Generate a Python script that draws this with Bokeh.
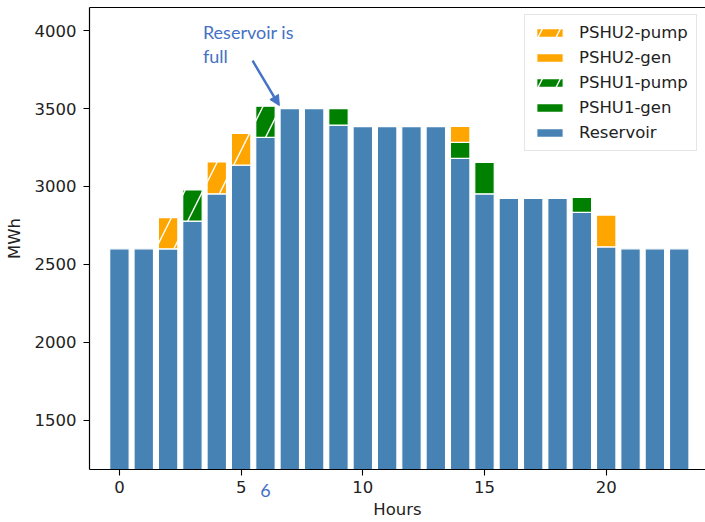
import numpy as np
from bokeh.plotting import figure
from bokeh.models import (Legend, LegendItem, LinearAxis, FixedTicker, Label,
                          Arrow, NormalHead)
from bokeh.core.properties import value
from bokeh.embed import file_html
from bokeh.resources import INLINE

# ---- data ----
hours = list(range(24))
reservoir = [2600, 2600, 2600, 2778, 2953, 3137, 3315, 3500, 3500, 3394, 3384, 3384,
             3384, 3384, 3180, 2953, 2924, 2924, 2924, 2834, 2613, 2600, 2600, 2600]
pshu1_gen = [0, 0, 0, 0, 0, 0, 0, 0, 0, 106, 0, 0,
             0, 0, 103, 202, 0, 0, 0, 96, 0, 0, 0, 0]
pshu1_pump = [0, 0, 0, 200, 0, 0, 200, 0, 0, 0, 0, 0,
              0, 0, 0, 0, 0, 0, 0, 0, 0, 0, 0, 0]
pshu2_gen = [0, 0, 0, 0, 0, 0, 0, 0, 0, 0, 0, 0,
             0, 0, 103, 0, 0, 0, 0, 0, 204, 0, 0, 0]
pshu2_pump = [0, 0, 200, 0, 204, 204, 0, 0, 0, 0, 0, 0,
              0, 0, 0, 0, 0, 0, 0, 0, 0, 0, 0, 0]

x_ticks = [0, 5, 10, 15, 20]
y_ticks = [1500, 2000, 2500, 3000, 3500, 4000]
marked_hour = [6]

BLUE = "#4682B4"
ORANGE = "#FFA500"
GREEN = "#008000"
ANN = "#4472C4"
TICK_FONT = "DejaVu Sans"
FS = "16.5px"

p = figure(width=705, height=522, x_range=(-1.23, 24.08), y_range=(1185, 4148),
           output_backend="svg", toolbar_location=None,
           min_border_left=89, min_border_right=0, min_border_top=7,
           min_border_bottom=53, background_fill_color="white",
           border_fill_color="white")
p.outline_line_color = None
p.xgrid.visible = False
p.ygrid.visible = False

series = [
    ("Reservoir", reservoir, BLUE, None),
    ("PSHU1-gen", pshu1_gen, GREEN, None),
    ("PSHU1-pump", pshu1_pump, GREEN, "/"),
    ("PSHU2-gen", pshu2_gen, ORANGE, None),
    ("PSHU2-pump", pshu2_pump, ORANGE, "/"),
]

bottom = np.full(len(hours), 0.0)
renderers = {}
for name, vals, col, hatch in series:
    v = np.array(vals, dtype=float)
    b = bottom.copy()
    t = bottom + v
    mask = (t - b) > 0
    kw = dict(x=np.array(hours)[mask], bottom=b[mask], top=t[mask], width=0.8,
              fill_color=col, line_color="white", line_width=1.2)
    if hatch:
        kw.update(hatch_pattern=hatch, hatch_color="white", hatch_scale=36,
                  hatch_weight=1.4)
    renderers[name] = p.vbar(**kw)
    bottom = t

# axes
for ax in (p.xaxis[0], p.yaxis[0]):
    ax.axis_line_color = "black"
    ax.axis_line_width = 1.2
    ax.major_tick_line_color = "black"
    ax.major_tick_line_width = 1.1
    ax.major_tick_in = 0
    ax.major_tick_out = 6
    ax.minor_tick_line_color = None
    ax.major_label_text_font = TICK_FONT
    ax.major_label_text_font_size = FS
    ax.major_label_text_color = "#222222"
    ax.axis_label_text_font = TICK_FONT
    ax.axis_label_text_font_size = FS
    ax.axis_label_text_font_style = "normal"
    ax.axis_label_text_color = "#222222"

p.xaxis.ticker = FixedTicker(ticks=x_ticks)
p.yaxis.ticker = FixedTicker(ticks=y_ticks)
p.xaxis.axis_label = "Hours"
p.yaxis.axis_label = "MWh"
p.xaxis.major_label_standoff = 5
p.xaxis.axis_label_standoff = 4
p.yaxis.major_label_standoff = 7
p.yaxis.axis_label_standoff = 8

top_axis = LinearAxis(ticker=FixedTicker(ticks=[]), major_label_text_font_size="0px",
                      major_tick_out=0, major_tick_in=0, minor_tick_out=0,
                      minor_tick_in=0, major_label_standoff=0,
                      axis_line_color="black", axis_line_width=1.2)
p.add_layout(top_axis, "above")

# legend
order = ["PSHU2-pump", "PSHU2-gen", "PSHU1-pump", "PSHU1-gen", "Reservoir"]
legend = Legend(items=[LegendItem(label=n, renderers=[renderers[n]]) for n in order],
                location=(435, 318))
legend.glyph_width = 33
legend.glyph_height = 11
legend.label_standoff = 13
legend.label_height = 18
legend.spacing = 6
legend.padding = 8
legend.margin = 0
legend.label_text_font = TICK_FONT
legend.label_text_font_size = FS
legend.label_text_color = "#222222"
legend.border_line_color = "#cccccc"
legend.border_line_width = 1
legend.background_fill_alpha = 0.85
p.add_layout(legend)

# annotations
p.add_layout(Label(x=3.43, y=3990, text="Reservoir is", text_color=ANN,
                   text_font="Lato", text_font_size="18px",
                   text_align="left", text_baseline="alphabetic"))
p.add_layout(Label(x=3.43, y=3835, text="full", text_color=ANN,
                   text_font="Lato", text_font_size="18px",
                   text_align="left", text_baseline="alphabetic"))
p.add_layout(Arrow(end=NormalHead(size=10, fill_color=ANN, line_color=ANN),
                   x_start=5.47, y_start=3807, x_end=6.57, y_end=3519,
                   line_color=ANN, line_width=2.5))
p.text(x=marked_hour, y=[1051], text=[str(h) for h in marked_hour],
       text_color=ANN, text_font=value("Lato"), text_font_size="18px",
       text_align="center", text_baseline="alphabetic", level="overlay")

open("out.html", "w").write(file_html(p, INLINE))
